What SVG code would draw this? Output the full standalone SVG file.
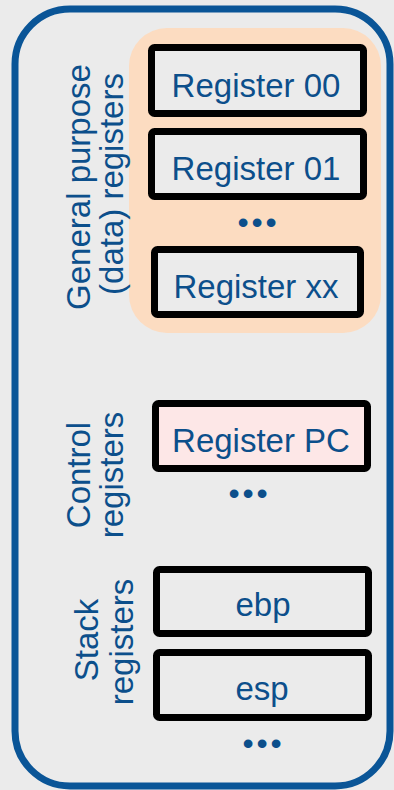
<svg xmlns="http://www.w3.org/2000/svg" width="394" height="790" viewBox="0 0 394 790">
<style>
.reg{fill:#ebebeb;stroke:#000;stroke-width:7}
.t{font-family:"Liberation Sans",Arial,sans-serif;font-size:33px;fill:#0c4f8b;text-anchor:middle}
.dots{font-family:"Liberation Sans",Arial,sans-serif;font-size:32px;fill:#0c4f8b;text-anchor:middle;letter-spacing:2.8px}
</style>
<rect x="0" y="0" width="394" height="790" fill="#ebebeb"/>
<g id="cpu">
<rect x="15" y="9" width="375" height="777" rx="55" fill="#ebebeb" stroke="#0a5597" stroke-width="7"/>
</g>
<g id="gp-group">
<rect x="129" y="28" width="252" height="305" rx="38" fill="#fcdcc1"/>
<text class="t" transform="translate(90,187) rotate(-90)">General purpose</text>
<text class="t" transform="translate(123,184) rotate(-90)">(data) registers</text>
<text class="dots" x="258.4" y="233">•••</text>
</g>
<g id="reg00">
<rect class="reg" x="151.5" y="47.5" width="212" height="66" rx="3"/>
<text class="t" x="256" y="97">Register 00</text>
</g>
<g id="reg01">
<rect class="reg" x="151.5" y="131.5" width="212" height="65" rx="3"/>
<text class="t" x="256" y="180">Register 01</text>
</g>
<g id="regxx">
<rect class="reg" x="154.5" y="249.5" width="206" height="65" rx="3"/>
<text class="t" x="256" y="298">Register xx</text>
</g>
<g id="control-group">
<text class="t" transform="translate(90,475) rotate(-90)">Control</text>
<text class="t" transform="translate(123,475) rotate(-90)">registers</text>
<text class="dots" x="249.4" y="504">•••</text>
</g>
<g id="regpc">
<rect class="reg" x="155.5" y="403.5" width="212" height="65" rx="3" style="fill:#fde7e7"/>
<text class="t" x="261" y="452">Register PC</text>
</g>
<g id="stack-group">
<text class="t" transform="translate(98,640) rotate(-90)">Stack</text>
<text class="t" transform="translate(133,642) rotate(-90)">registers</text>
<text class="dots" x="263.4" y="754">•••</text>
</g>
<g id="ebp">
<rect class="reg" x="156.5" y="569.5" width="212" height="64" rx="3"/>
<text class="t" x="263" y="616">ebp</text>
</g>
<g id="esp">
<rect class="reg" x="156.5" y="652.5" width="212" height="65" rx="3"/>
<text class="t" x="262" y="700">esp</text>
</g>
<g id="connectors"/>
</svg>
